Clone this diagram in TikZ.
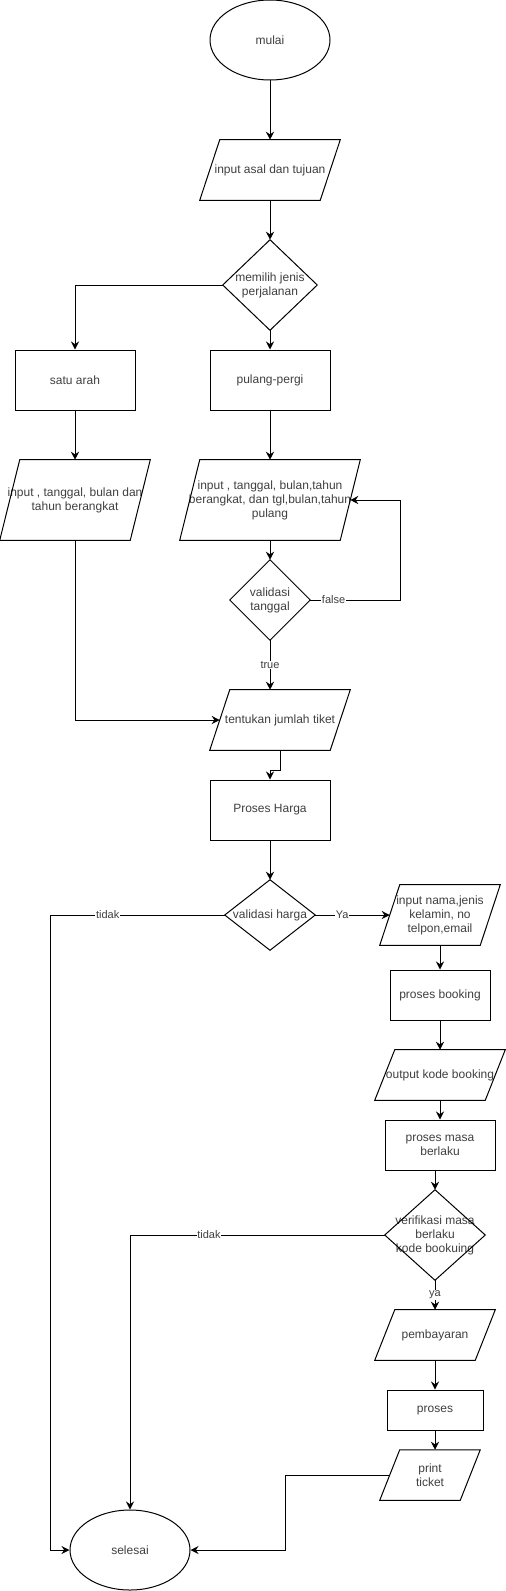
\documentclass[tikz,border=0pt]{standalone}
\usepackage{fontspec}
\setmainfont{Liberation Sans}
\usetikzlibrary{shapes.geometric,arrows.meta,calc}
\definecolor{txt}{HTML}{3F3F3F}
\tikzset{
  base/.style={inner sep=0pt, align=center, font=\fontsize{9pt}{10.5pt}\selectfont, text=txt},
  oval/.style={base, ellipse, draw, line width=0.75pt, minimum width=90pt, minimum height=60pt},
  box/.style={base, rectangle, draw, line width=0.75pt},
  ghost/.style={base, rectangle},
  edge/.style={line width=0.75pt, -{Stealth[length=6pt,width=6pt,inset=2pt]}},
  plain/.style={line width=0.75pt},
  lbl/.style={fill=white, inner sep=0.5pt, font=\fontsize{8.25pt}{9pt}\selectfont, text=txt}
}
\newcommand\parashape[2]{\draw[plain] ($(#1.north west)+(#2,0)$) -- (#1.north east) -- ($(#1.south east)+(-#2,0)$) -- (#1.south west) -- cycle;}
\newcommand\diamondshape[1]{\draw[plain] (#1.north) -- (#1.east) -- (#1.south) -- (#1.west) -- cycle;}
\begin{document}
\begin{tikzpicture}[x=0.75pt,y=-0.75pt]
\useasboundingbox (0,0) rectangle (506,1591);
% nodes
\node[oval] (mulai) at (270,40) {mulai};
\node[ghost, minimum width=105pt, minimum height=45pt] (asal) at (270,170) {input asal dan tujuan};
\node[ghost, minimum width=70.5pt, minimum height=67.5pt] (pilih) at (270,285) {memilih jenis\\perjalanan};
\node[box, minimum width=90pt, minimum height=45pt] (satu) at (75,380) {satu arah};
\node[box, minimum width=90pt, minimum height=45pt] (pp) at (270,380) {pulang-pergi};
\node[ghost, minimum width=112.5pt, minimum height=60pt] (inp1) at (75,500) {input , tanggal, bulan dan\\tahun berangkat};
\node[ghost, minimum width=135pt, minimum height=60pt] (inp2) at (270,500) {input , tanggal, bulan,tahun\\berangkat, dan tgl,bulan,tahun\\pulang};
\node[ghost, minimum width=60pt, minimum height=60pt] (valtgl) at (270,600) {validasi\\tanggal};
\node[ghost, minimum width=105pt, minimum height=45pt] (tiket) at (280,720) {tentukan jumlah tiket};
\node[box, minimum width=90pt, minimum height=45pt] (harga) at (270,810) {Proses Harga};
\node[ghost, minimum width=67.5pt, minimum height=52.5pt] (valharga) at (270,915) {validasi harga};
\node[ghost, minimum width=90pt, minimum height=45pt] (nama) at (440,915) {input nama,jenis\\kelamin, no\\telpon,email};
\node[box, minimum width=75pt, minimum height=37.5pt] (booking) at (440,995) {proses booking};
\node[ghost, minimum width=97.5pt, minimum height=37.5pt] (kode) at (440,1075) {output kode booking};
\node[box, minimum width=82.5pt, minimum height=37.5pt] (masa) at (440,1145) {proses masa\\berlaku};
\node[ghost, minimum width=75pt, minimum height=67.5pt] (verif) at (435,1235) {verifikasi masa\\berlaku\\kode bookuing};
\node[ghost, minimum width=90pt, minimum height=37.5pt] (bayar) at (435,1335) {pembayaran};
\node[box, minimum width=72pt, minimum height=30pt] (proses) at (435,1410) {proses};
\node[ghost, minimum width=75pt, minimum height=37.5pt] (print) at (430,1475) {print\\ticket};
\node[oval] (selesai) at (130,1550) {selesai};
% shapes
\parashape{asal}{20}
\diamondshape{pilih}
\parashape{inp1}{20}
\parashape{inp2}{20}
\diamondshape{valtgl}
\parashape{tiket}{20}
\diamondshape{valharga}
\parashape{nama}{20}
\parashape{kode}{20}
\diamondshape{verif}
\parashape{bayar}{20}
\parashape{print}{20}
% helper coordinates
\coordinate (inp2R) at ($(inp2.east)+(-10,0)$);
\coordinate (tiketL) at ($(tiket.west)+(10,0)$);
\coordinate (namaL) at ($(nama.west)+(10,0)$);
\coordinate (printL) at ($(print.west)+(10,0)$);
\coordinate (loopR) at (400,600);
\coordinate (tidakL) at (50,915);
\coordinate (verifJ) at (130,1235);
\coordinate (printJ) at (285,1475);
% connectors
\draw[edge] (mulai.south) -- (asal.north);
\draw[edge] (asal.south) -- (pilih.north);
\draw[edge] (pilih.west) -| (satu.north);
\draw[edge] (pilih.south) -- (pp.north);
\draw[edge] (satu.south) -- (inp1.north);
\draw[edge] (pp.south) -- (inp2.north);
\draw[edge] (inp2.south) -- (valtgl.north);
\draw[edge] (valtgl.east) -- node[lbl, pos=0.26] {false} (loopR) |- (inp2R);
\draw[edge] (valtgl.south) -- node[lbl, pos=0.5] {true} (valtgl.south |- tiket.north);
\draw[edge] (inp1.south) |- (tiketL);
\draw[edge] (tiket.south) -- ++(0,20) -| (harga.north);
\draw[edge] (harga.south) -- (valharga.north);
\draw[edge] (valharga.west) -- node[lbl, pos=0.67] {tidak} (tidakL) |- (selesai.west);
\draw[edge] (valharga.east) -- node[lbl, pos=0.36] {Ya} (namaL);
\draw[edge] (nama.south) -- (booking.north);
\draw[edge] (booking.south) -- (kode.north);
\draw[edge] (kode.south) -- (masa.north);
\draw[edge] (verif.north |- masa.south) -- (verif.north);
\draw[edge] (verif.west) -- node[lbl, pos=0.69] {tidak} (verifJ) -- (selesai.north);
\draw[edge] (verif.south) -- node[lbl, pos=0.5] {ya} (bayar.north);
\draw[edge] (bayar.south) -- (proses.north);
\draw[edge] (proses.south) -- (proses.south |- print.north);
\draw[edge] (printL) -- (printJ) |- (selesai.east);
\end{tikzpicture}
\end{document}
